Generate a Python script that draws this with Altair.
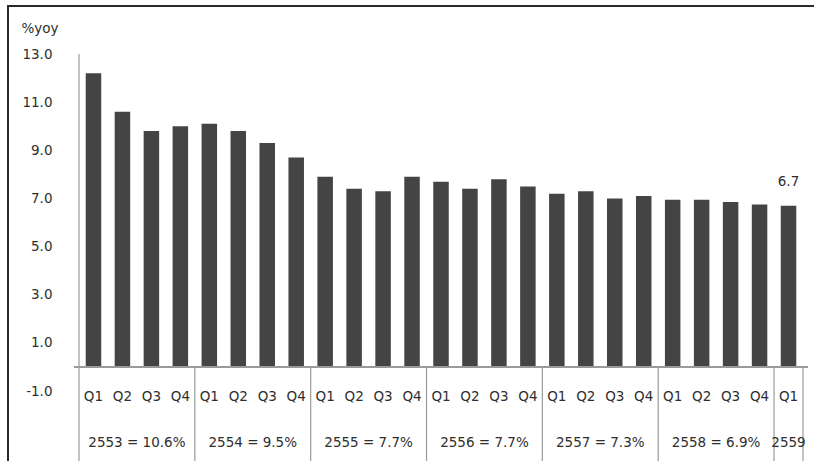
import altair as alt
import pandas as pd

# Quarterly growth, %yoy
years = ["2553", "2554", "2555", "2556", "2557", "2558", "2559"]
annual_growth = [10.6, 9.5, 7.7, 7.7, 7.3, 6.9, None]
quarters_in_year = [4, 4, 4, 4, 4, 4, 1]
quarter_names = ["Q1", "Q2", "Q3", "Q4"]
growth = [12.2, 10.6, 9.8, 10.0,
          10.1, 9.8, 9.3, 8.7,
          7.9, 7.4, 7.3, 7.9,
          7.7, 7.4, 7.8, 7.5,
          7.2, 7.3, 7.0, 7.1,
          6.95, 6.95, 6.85, 6.75,
          6.7]
y_ticks = [-1, 1, 3, 5, 7, 9, 11, 13]

FONT = "DejaVu Sans"
FS = 13.5
TEXT = "#2e2e2e"
BAR = "#444444"
LINE = "#9a9a9a"
Y_MIN, Y_MAX = -3.9, 13

# one row per quarter
rows = []
i = 0
for y, n in zip(years, quarters_in_year):
    for q in range(n):
        rows.append({"pos": i + 0.5, "quarter": quarter_names[q],
                     "year": y, "value": growth[i]})
        i += 1
bars_df = pd.DataFrame(rows)

# one row per year group
bounds = [0]
for n in quarters_in_year:
    bounds.append(bounds[-1] + n)
groups_df = pd.DataFrame({
    "center": [(a + b) / 2 for a, b in zip(bounds[:-1], bounds[1:])],
    "label": [f"{y} = {g}%" if g is not None else y
              for y, g in zip(years, annual_growth)],
})
dividers_df = pd.DataFrame({"x": bounds[1:]})
last_df = bars_df.tail(1)

x_scale = alt.Scale(domain=[0, bounds[-1]], nice=False, zero=False)
y_scale = alt.Scale(domain=[Y_MIN, Y_MAX], nice=False, zero=False)

bars = alt.Chart(bars_df).mark_bar(size=15.5, color=BAR).encode(
    x=alt.X("pos:Q", scale=x_scale, axis=None),
    y=alt.Y("value:Q", scale=y_scale,
            axis=alt.Axis(values=y_ticks, grid=False, domain=False,
                          labelExpr="(datum.value < 0 ? '-' : '') + format(abs(datum.value), '.1f')",
                          ticks=False, tickSize=0, labelPadding=22,
                          labelFont=FONT, labelFontSize=FS, labelColor=TEXT,
                          title="%yoy", titleAngle=0, titleAlign="left",
                          titleBaseline="middle", titleX=-53, titleY=-26,
                          titleFont=FONT, titleFontSize=FS,
                          titleFontWeight="normal", titleColor=TEXT)),
    y2=alt.datum(0),
)

# vertical axis line, from the top of the scale to the bottom of the category band
axis_line = alt.Chart(last_df).mark_rule(color=LINE, strokeWidth=1.2).encode(
    x=alt.X(datum=0, scale=x_scale),
    y=alt.datum(Y_MAX),
    y2=alt.datum(Y_MIN),
)

baseline = alt.Chart(bars_df).mark_rule(color=LINE, strokeWidth=1.2).encode(
    y=alt.datum(0)
)

dividers = alt.Chart(dividers_df).mark_rule(color=LINE, strokeWidth=1.2).encode(
    x=alt.X("x:Q", scale=x_scale),
    y=alt.datum(0),
    y2=alt.datum(Y_MIN),
)

q_labels = alt.Chart(bars_df).mark_text(
    font=FONT, fontSize=FS, color=TEXT, baseline="middle"
).encode(
    x=alt.X("pos:Q", scale=x_scale),
    y=alt.datum(-1.26),
    text="quarter:N",
)

year_labels = alt.Chart(groups_df).mark_text(
    font=FONT, fontSize=FS, color=TEXT, baseline="middle"
).encode(
    x=alt.X("center:Q", scale=x_scale),
    y=alt.datum(-3.17),
    text="label:N",
)

last_label = alt.Chart(last_df).mark_text(
    font=FONT, fontSize=FS, color=TEXT, baseline="middle", dy=-24
).encode(
    x=alt.X("pos:Q", scale=x_scale),
    y=alt.Y("value:Q", scale=y_scale),
    text=alt.Text("value:Q", format=".1f"),
)

# outer border of the figure
frame = alt.Chart(last_df).mark_rect(
    filled=False, stroke="#2a2a2a", strokeWidth=2
).encode(
    x=alt.value(-66), x2=alt.value(760), y=alt.value(-48), y2=alt.value(520)
)

chart = alt.layer(
    bars, axis_line, baseline, dividers, q_labels, year_labels, last_label, frame
).properties(
    width=734, height=407,
    autosize=alt.AutoSizeParams(type="none"),
    padding={"left": 74, "top": 54, "right": 6, "bottom": 0},
    background="white",
).configure_view(stroke=None)

chart.save("out.html", embed_options={"renderer": "svg", "actions": False})
